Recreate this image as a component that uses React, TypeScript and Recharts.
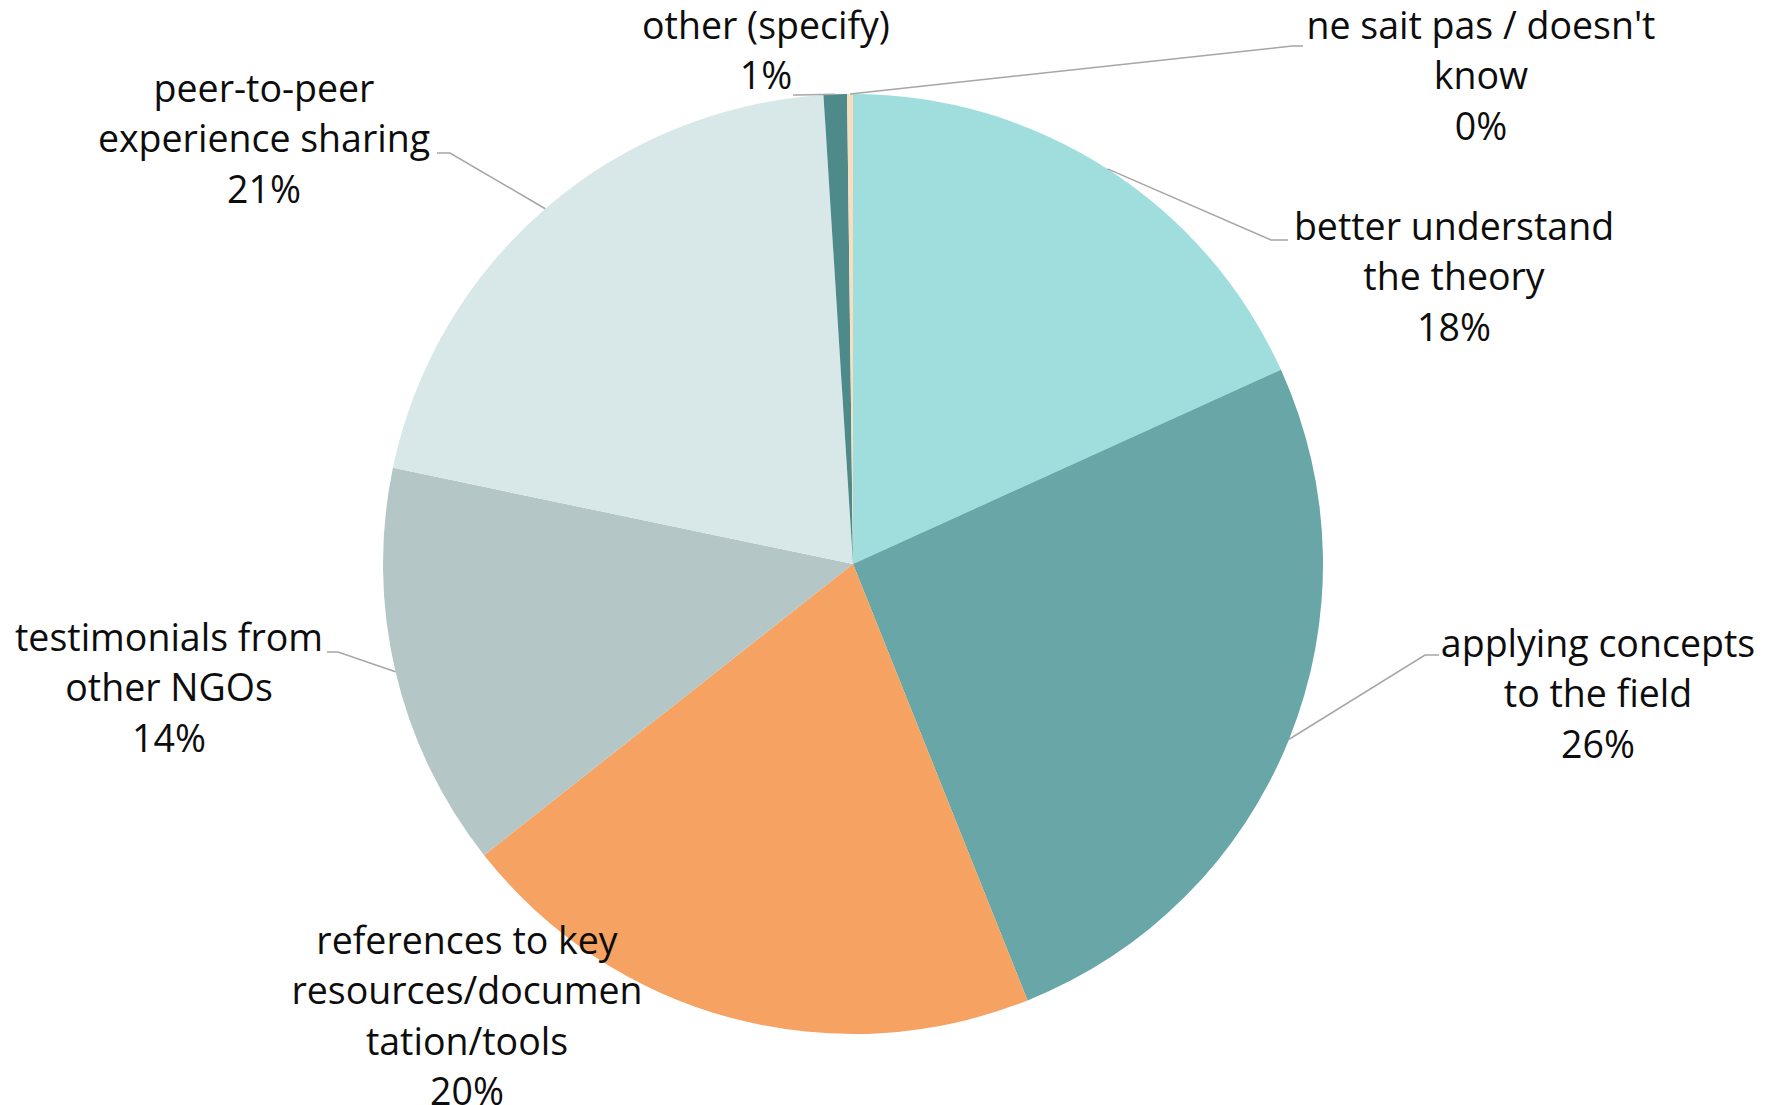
import React from "react";
import { PieChart, Pie, Cell } from "recharts";

const categories = [
  "better understand the theory",
  "applying concepts to the field",
  "references to key resources/documentation/tools",
  "testimonials from other NGOs",
  "peer-to-peer experience sharing",
  "other (specify)",
  "ne sait pas / doesn't know",
];
const shares = [18.2, 25.7, 20.4, 13.9, 20.7, 0.8, 0.2];
const labelLines = [
  ["better understand", "the theory"],
  ["applying concepts", "to the field"],
  ["references to key", "resources/documen", "tation/tools"],
  ["testimonials from", "other NGOs"],
  ["peer-to-peer", "experience sharing"],
  ["other (specify)"],
  ["ne sait pas / doesn't", "know"],
];
const colors = ["#A0DDDD", "#68A6A7", "#F5A263", "#B4C6C6", "#D8E8E8", "#4E8A8A", "#F8DDBF"];

const data = categories.map((name, i) => ({ name, value: shares[i] }));

// label layout, relative to pie centre (text centre x, first line centre y, elbow, end)
const layout = [
  { tx: 601, ty: -339, ex: 418, ey: -324, fx: 435, fy: -324 },
  { tx: 745, ty: 78, ex: 572, ey: 91, fx: 586, fy: 91 },
  { tx: -386, ty: 375, ex: null, ey: null, fx: null, fy: null },
  { tx: -684, ty: 72, ex: -515, ey: 88, fx: -526, fy: 88 },
  { tx: -589, ty: -477, ex: -403, ey: -411, fx: -416, fy: -411 },
  { tx: -87, ty: -540, ex: -56, ey: -469, fx: -60, fy: -469 },
  { tx: 628, ty: -540, ex: 439, ey: -518, fx: 450, fy: -518 },
];

const FONT = "'Open Sans', sans-serif";
const LINE_H = 50.5;
const RAD = Math.PI / 180;

const renderLabel = (props: any) => {
  const { cx, cy, midAngle, outerRadius, percent, index } = props;
  const L = layout[index];
  const sx = cx + outerRadius * Math.cos(-midAngle * RAD);
  const sy = cy + outerRadius * Math.sin(-midAngle * RAD);
  const lines = [...labelLines[index], `${Math.round(percent * 100)}%`];
  return (
    <g key={`lbl-${index}`}>
      {L.ex !== null && (
        <polyline
          points={`${sx},${sy} ${cx + L.ex},${cy + L.ey} ${cx + L.fx},${cy + L.fy}`}
          fill="none"
          stroke="#A6A6A6"
          strokeWidth={1.5}
        />
      )}
      <text
        x={cx + L.tx}
        y={cy + L.ty}
        textAnchor="middle"
        fontFamily={FONT}
        fontSize={37.5}
        fill="#0D0D0D"
      >
        {lines.map((t, k) => (
          <tspan key={k} x={cx + L.tx} y={cy + L.ty + k * LINE_H} dominantBaseline="central">
            {t}
          </tspan>
        ))}
      </text>
    </g>
  );
};

export default function App() {
  return (
    <div style={{ position: "absolute", left: 0, top: 0, width: 1775, height: 1105, background: "#fff" }}>
      <PieChart width={1775} height={1105} margin={{ top: 0, right: 0, bottom: 0, left: 0 }}>
        <Pie
          data={data}
          dataKey="value"
          nameKey="name"
          cx={853}
          cy={564}
          outerRadius={470}
          startAngle={90}
          endAngle={-270}
          stroke="none"
          label={renderLabel}
          labelLine={false}
          isAnimationActive={false}
        >
          {data.map((d, i) => (
            <Cell key={d.name} fill={colors[i]} />
          ))}
        </Pie>
      </PieChart>
    </div>
  );
}
